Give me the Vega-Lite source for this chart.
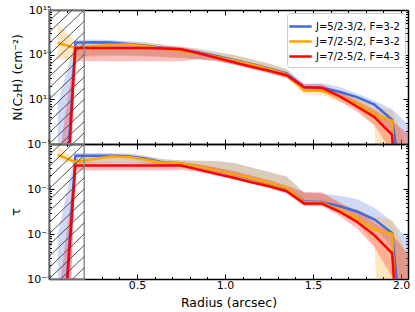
{
  "$schema": "https://vega.github.io/schema/vega-lite/v6.json",
  "padding": {"left": 9, "top": 4, "right": 5, "bottom": 3},
  "bounds": "flush",
  "spacing": 0,
  "config": {
    "font": "DejaVu Sans",
    "view": {"stroke": null},
    "axis": {
      "domainColor": "black", "domainWidth": 1.5, "tickColor": "black", "tickWidth": 1,
      "labelFont": "DejaVu Sans", "labelFontSize": 11, "labelColor": "black",
      "titleFont": "DejaVu Sans", "titleFontSize": 12.5, "titleFontWeight": "normal", "titleColor": "black",
      "grid": false, "labelPadding": 3, "zindex": 1, "labelOverlap": false, "labelFlush": false, "labelBound": false
    },
    "legend": {
      "orient": "top-right", "offset": 3, "symbolType": "M-1.6,0L1.6,0", "symbolStrokeWidth": 2.5, "symbolSize": 196, "symbolOpacity": 1,
      "labelFont": "DejaVu Sans", "labelFontSize": 10, "labelColor": "black",
      "fillColor": "rgba(255,255,255,0.85)", "strokeColor": "#cccccc", "padding": 5, "cornerRadius": 3, "rowPadding": 1, "labelOffset": 7
    }
  },
  "datasets": {
    "box": [{"x0": 0, "x1": 0.2}],
    "hatchN": [
      {"x0": 0, "x1": 0.2, "ya": 1.778e11, "yb": 1e12},
      {"x0": 0, "x1": 0.2, "ya": 3.162e11, "yb": 1.778e12},
      {"x0": 0, "x1": 0.2, "ya": 5.623e11, "yb": 3.162e12},
      {"x0": 0, "x1": 0.2, "ya": 1e12, "yb": 5.623e12},
      {"x0": 0, "x1": 0.2, "ya": 1.778e12, "yb": 1e13},
      {"x0": 0, "x1": 0.2, "ya": 3.162e12, "yb": 1.778e13},
      {"x0": 0, "x1": 0.2, "ya": 5.623e12, "yb": 3.162e13},
      {"x0": 0, "x1": 0.2, "ya": 1e13, "yb": 5.623e13},
      {"x0": 0, "x1": 0.2, "ya": 1.778e13, "yb": 1e14},
      {"x0": 0, "x1": 0.2, "ya": 3.162e13, "yb": 1.778e14},
      {"x0": 0, "x1": 0.2, "ya": 5.623e13, "yb": 3.162e14},
      {"x0": 0, "x1": 0.2, "ya": 1e14, "yb": 5.623e14},
      {"x0": 0, "x1": 0.2, "ya": 1.778e14, "yb": 1e15},
      {"x0": 0, "x1": 0.2, "ya": 3.162e14, "yb": 1.778e15},
      {"x0": 0, "x1": 0.2, "ya": 5.623e14, "yb": 3.162e15},
      {"x0": 0, "x1": 0.2, "ya": 1e15, "yb": 5.623e15}
    ],
    "hatchT": [
      {"x0": 0, "x1": 0.2, "ya": 1.778e-5, "yb": 1e-4},
      {"x0": 0, "x1": 0.2, "ya": 3.162e-5, "yb": 1.778e-4},
      {"x0": 0, "x1": 0.2, "ya": 5.623e-5, "yb": 3.162e-4},
      {"x0": 0, "x1": 0.2, "ya": 1e-4, "yb": 5.623e-4},
      {"x0": 0, "x1": 0.2, "ya": 1.778e-4, "yb": 1e-3},
      {"x0": 0, "x1": 0.2, "ya": 3.162e-4, "yb": 1.778e-3},
      {"x0": 0, "x1": 0.2, "ya": 5.623e-4, "yb": 3.162e-3},
      {"x0": 0, "x1": 0.2, "ya": 1e-3, "yb": 5.623e-3},
      {"x0": 0, "x1": 0.2, "ya": 1.778e-3, "yb": 1e-2},
      {"x0": 0, "x1": 0.2, "ya": 3.162e-3, "yb": 1.778e-2},
      {"x0": 0, "x1": 0.2, "ya": 5.623e-3, "yb": 3.162e-2},
      {"x0": 0, "x1": 0.2, "ya": 1e-2, "yb": 5.623e-2},
      {"x0": 0, "x1": 0.2, "ya": 1.778e-2, "yb": 1e-1},
      {"x0": 0, "x1": 0.2, "ya": 3.162e-2, "yb": 1.778e-1},
      {"x0": 0, "x1": 0.2, "ya": 5.623e-2, "yb": 3.162e-1},
      {"x0": 0, "x1": 0.2, "ya": 1e-1, "yb": 5.623e-1}
    ],
    "N": [
      {"s": "J=5/2-3/2, F=3-2", "r": 0.05, "v": 1e8, "lo": 1e5, "hi": 7.943e12},
      {"s": "J=5/2-3/2, F=3-2", "r": 0.15, "v": 1.862e14, "lo": 8.913e13, "hi": 2.138e14},
      {"s": "J=5/2-3/2, F=3-2", "r": 0.25, "v": 1.905e14, "lo": 9.55e13, "hi": 2.188e14},
      {"s": "J=5/2-3/2, F=3-2", "r": 0.35, "v": 1.862e14, "lo": 9.55e13, "hi": 2.138e14},
      {"s": "J=5/2-3/2, F=3-2", "r": 0.45, "v": 1.738e14, "lo": 9.55e13, "hi": 1.995e14},
      {"s": "J=5/2-3/2, F=3-2", "r": 0.55, "v": 1.585e14, "lo": 9.333e13, "hi": 1.862e14},
      {"s": "J=5/2-3/2, F=3-2", "r": 0.65, "v": 1.413e14, "lo": 8.913e13, "hi": 1.66e14},
      {"s": "J=5/2-3/2, F=3-2", "r": 0.75, "v": 1.288e14, "lo": 8.511e13, "hi": 1.514e14},
      {"s": "J=5/2-3/2, F=3-2", "r": 0.85, "v": 1.122e14, "lo": 7.943e13, "hi": 1.349e14},
      {"s": "J=5/2-3/2, F=3-2", "r": 0.95, "v": 9.333e13, "lo": 7.079e13, "hi": 1.148e14},
      {"s": "J=5/2-3/2, F=3-2", "r": 1.05, "v": 7.586e13, "lo": 6.026e13, "hi": 9.772e13},
      {"s": "J=5/2-3/2, F=3-2", "r": 1.15, "v": 6.166e13, "lo": 5.012e13, "hi": 7.943e13},
      {"s": "J=5/2-3/2, F=3-2", "r": 1.25, "v": 4.898e13, "lo": 3.981e13, "hi": 6.31e13},
      {"s": "J=5/2-3/2, F=3-2", "r": 1.35, "v": 3.802e13, "lo": 3.162e13, "hi": 4.786e13},
      {"s": "J=5/2-3/2, F=3-2", "r": 1.45, "v": 1.862e13, "lo": 1.585e13, "hi": 2.239e13},
      {"s": "J=5/2-3/2, F=3-2", "r": 1.55, "v": 1.82e13, "lo": 1.514e13, "hi": 2.291e13},
      {"s": "J=5/2-3/2, F=3-2", "r": 1.65, "v": 1.479e13, "lo": 1.122e13, "hi": 1.905e13},
      {"s": "J=5/2-3/2, F=3-2", "r": 1.75, "v": 1.122e13, "lo": 7.943e12, "hi": 1.349e13},
      {"s": "J=5/2-3/2, F=3-2", "r": 1.85, "v": 7.586e12, "lo": 4.786e12, "hi": 9.333e12},
      {"s": "J=5/2-3/2, F=3-2", "r": 1.95, "v": 3.467e12, "lo": 1.585e12, "hi": 6.026e12},
      {"s": "J=5/2-3/2, F=3-2", "r": 2.05, "v": 6.31e9, "lo": 1e5, "hi": 2.512e12},
      {"s": "J=7/2-5/2, F=3-2", "r": 0.05, "v": 1.82e14, "lo": 7.943e13, "hi": 5.012e14},
      {"s": "J=7/2-5/2, F=3-2", "r": 0.15, "v": 1.413e14, "lo": 7.943e13, "hi": 1.995e14},
      {"s": "J=7/2-5/2, F=3-2", "r": 0.25, "v": 1.549e14, "lo": 8.913e13, "hi": 1.905e14},
      {"s": "J=7/2-5/2, F=3-2", "r": 0.35, "v": 1.66e14, "lo": 9.333e13, "hi": 1.995e14},
      {"s": "J=7/2-5/2, F=3-2", "r": 0.45, "v": 1.698e14, "lo": 9.333e13, "hi": 1.995e14},
      {"s": "J=7/2-5/2, F=3-2", "r": 0.55, "v": 1.549e14, "lo": 9.12e13, "hi": 1.862e14},
      {"s": "J=7/2-5/2, F=3-2", "r": 0.65, "v": 1.349e14, "lo": 8.71e13, "hi": 1.66e14},
      {"s": "J=7/2-5/2, F=3-2", "r": 0.75, "v": 1.202e14, "lo": 8.318e13, "hi": 1.479e14},
      {"s": "J=7/2-5/2, F=3-2", "r": 0.85, "v": 1.072e14, "lo": 7.943e13, "hi": 1.318e14},
      {"s": "J=7/2-5/2, F=3-2", "r": 0.95, "v": 8.913e13, "lo": 7.079e13, "hi": 1.148e14},
      {"s": "J=7/2-5/2, F=3-2", "r": 1.05, "v": 7.413e13, "lo": 6.026e13, "hi": 9.772e13},
      {"s": "J=7/2-5/2, F=3-2", "r": 1.15, "v": 6.026e13, "lo": 5.012e13, "hi": 7.943e13},
      {"s": "J=7/2-5/2, F=3-2", "r": 1.25, "v": 4.786e13, "lo": 3.981e13, "hi": 6.31e13},
      {"s": "J=7/2-5/2, F=3-2", "r": 1.35, "v": 3.631e13, "lo": 3.02e13, "hi": 4.571e13},
      {"s": "J=7/2-5/2, F=3-2", "r": 1.45, "v": 1.585e13, "lo": 1.318e13, "hi": 1.995e13},
      {"s": "J=7/2-5/2, F=3-2", "r": 1.55, "v": 1.549e13, "lo": 1.259e13, "hi": 1.95e13},
      {"s": "J=7/2-5/2, F=3-2", "r": 1.65, "v": 1.148e13, "lo": 8.913e12, "hi": 1.479e13},
      {"s": "J=7/2-5/2, F=3-2", "r": 1.75, "v": 8.128e12, "lo": 6.026e12, "hi": 1.072e13},
      {"s": "J=7/2-5/2, F=3-2", "r": 1.85, "v": 4.571e12, "lo": 2.512e12, "hi": 7.079e12},
      {"s": "J=7/2-5/2, F=3-2", "r": 1.95, "v": 3.311e12, "lo": 100, "hi": 5.623e12},
      {"s": "J=7/2-5/2, F=3-2", "r": 2.05, "v": 100, "lo": 100, "hi": 6.31e11},
      {"s": "J=7/2-5/2, F=4-3", "r": 0.05, "v": 3.981e7, "lo": 1e5, "hi": 3.162e11},
      {"s": "J=7/2-5/2, F=4-3", "r": 0.15, "v": 1.413e14, "lo": 7.079e13, "hi": 1.585e14},
      {"s": "J=7/2-5/2, F=4-3", "r": 0.25, "v": 1.413e14, "lo": 7.079e13, "hi": 1.585e14},
      {"s": "J=7/2-5/2, F=4-3", "r": 0.35, "v": 1.413e14, "lo": 7.079e13, "hi": 1.585e14},
      {"s": "J=7/2-5/2, F=4-3", "r": 0.45, "v": 1.413e14, "lo": 7.079e13, "hi": 1.585e14},
      {"s": "J=7/2-5/2, F=4-3", "r": 0.55, "v": 1.413e14, "lo": 7.079e13, "hi": 1.585e14},
      {"s": "J=7/2-5/2, F=4-3", "r": 0.65, "v": 1.38e14, "lo": 7.079e13, "hi": 1.549e14},
      {"s": "J=7/2-5/2, F=4-3", "r": 0.75, "v": 1.318e14, "lo": 7.079e13, "hi": 1.479e14},
      {"s": "J=7/2-5/2, F=4-3", "r": 0.85, "v": 1.072e14, "lo": 7.943e13, "hi": 1.23e14},
      {"s": "J=7/2-5/2, F=4-3", "r": 0.95, "v": 8.511e13, "lo": 7.413e13, "hi": 9.772e13},
      {"s": "J=7/2-5/2, F=4-3", "r": 1.05, "v": 6.761e13, "lo": 6.026e13, "hi": 7.943e13},
      {"s": "J=7/2-5/2, F=4-3", "r": 1.15, "v": 5.37e13, "lo": 4.786e13, "hi": 6.31e13},
      {"s": "J=7/2-5/2, F=4-3", "r": 1.25, "v": 4.365e13, "lo": 3.802e13, "hi": 5.012e13},
      {"s": "J=7/2-5/2, F=4-3", "r": 1.35, "v": 3.467e13, "lo": 3.02e13, "hi": 3.981e13},
      {"s": "J=7/2-5/2, F=4-3", "r": 1.45, "v": 1.862e13, "lo": 1.585e13, "hi": 2.239e13},
      {"s": "J=7/2-5/2, F=4-3", "r": 1.55, "v": 1.82e13, "lo": 1.514e13, "hi": 2.188e13},
      {"s": "J=7/2-5/2, F=4-3", "r": 1.65, "v": 1.175e13, "lo": 9.333e12, "hi": 1.479e13},
      {"s": "J=7/2-5/2, F=4-3", "r": 1.75, "v": 6.918e12, "lo": 5.248e12, "hi": 9.333e12},
      {"s": "J=7/2-5/2, F=4-3", "r": 1.85, "v": 3.981e12, "lo": 2.63e12, "hi": 5.754e12},
      {"s": "J=7/2-5/2, F=4-3", "r": 1.95, "v": 1.585e12, "lo": 6.31e11, "hi": 3.311e12},
      {"s": "J=7/2-5/2, F=4-3", "r": 2.05, "v": 1e5, "lo": 1e5, "hi": 1.585e12}
    ],
    "tau": [
      {"s": "J=5/2-3/2, F=3-2", "r": 0.05, "v": 1e-7, "lo": 1e-12, "hi": 1e-3},
      {"s": "J=5/2-3/2, F=3-2", "r": 0.15, "v": 5.495e-2, "lo": 3.802e-2, "hi": 6.31e-2},
      {"s": "J=5/2-3/2, F=3-2", "r": 0.25, "v": 5.495e-2, "lo": 3.802e-2, "hi": 6.31e-2},
      {"s": "J=5/2-3/2, F=3-2", "r": 0.35, "v": 5.495e-2, "lo": 3.802e-2, "hi": 6.31e-2},
      {"s": "J=5/2-3/2, F=3-2", "r": 0.45, "v": 5.37e-2, "lo": 3.802e-2, "hi": 6.166e-2},
      {"s": "J=5/2-3/2, F=3-2", "r": 0.55, "v": 4.677e-2, "lo": 3.631e-2, "hi": 5.495e-2},
      {"s": "J=5/2-3/2, F=3-2", "r": 0.65, "v": 3.89e-2, "lo": 3.388e-2, "hi": 4.571e-2},
      {"s": "J=5/2-3/2, F=3-2", "r": 0.75, "v": 3.715e-2, "lo": 3.162e-2, "hi": 4.365e-2},
      {"s": "J=5/2-3/2, F=3-2", "r": 0.85, "v": 3.162e-2, "lo": 2.754e-2, "hi": 4.266e-2},
      {"s": "J=5/2-3/2, F=3-2", "r": 0.95, "v": 2.63e-2, "lo": 2.291e-2, "hi": 4.169e-2},
      {"s": "J=5/2-3/2, F=3-2", "r": 1.05, "v": 2.138e-2, "lo": 1.862e-2, "hi": 3.802e-2},
      {"s": "J=5/2-3/2, F=3-2", "r": 1.15, "v": 1.698e-2, "lo": 1.479e-2, "hi": 3.02e-2},
      {"s": "J=5/2-3/2, F=3-2", "r": 1.25, "v": 1.349e-2, "lo": 1.175e-2, "hi": 2.399e-2},
      {"s": "J=5/2-3/2, F=3-2", "r": 1.35, "v": 1.047e-2, "lo": 8.913e-3, "hi": 1.905e-2},
      {"s": "J=5/2-3/2, F=3-2", "r": 1.45, "v": 5.248e-3, "lo": 4.467e-3, "hi": 8.511e-3},
      {"s": "J=5/2-3/2, F=3-2", "r": 1.55, "v": 5.129e-3, "lo": 4.365e-3, "hi": 7.943e-3},
      {"s": "J=5/2-3/2, F=3-2", "r": 1.65, "v": 4.169e-3, "lo": 3.162e-3, "hi": 7.079e-3},
      {"s": "J=5/2-3/2, F=3-2", "r": 1.75, "v": 3.162e-3, "lo": 2.239e-3, "hi": 6.026e-3},
      {"s": "J=5/2-3/2, F=3-2", "r": 1.85, "v": 2.089e-3, "lo": 1.413e-3, "hi": 3.802e-3},
      {"s": "J=5/2-3/2, F=3-2", "r": 1.95, "v": 1.047e-3, "lo": 5.012e-4, "hi": 1.905e-3},
      {"s": "J=5/2-3/2, F=3-2", "r": 2.05, "v": 7.943e-8, "lo": 1e-12, "hi": 6.607e-4},
      {"s": "J=7/2-5/2, F=3-2", "r": 0.05, "v": 5.754e-2, "lo": 4.467e-2, "hi": 8.913e-2},
      {"s": "J=7/2-5/2, F=3-2", "r": 0.15, "v": 3.981e-2, "lo": 3.467e-2, "hi": 4.677e-2},
      {"s": "J=7/2-5/2, F=3-2", "r": 0.25, "v": 4.571e-2, "lo": 3.802e-2, "hi": 5.495e-2},
      {"s": "J=7/2-5/2, F=3-2", "r": 0.35, "v": 5.248e-2, "lo": 3.981e-2, "hi": 6.026e-2},
      {"s": "J=7/2-5/2, F=3-2", "r": 0.45, "v": 5.129e-2, "lo": 3.981e-2, "hi": 6.026e-2},
      {"s": "J=7/2-5/2, F=3-2", "r": 0.55, "v": 4.467e-2, "lo": 3.802e-2, "hi": 5.37e-2},
      {"s": "J=7/2-5/2, F=3-2", "r": 0.65, "v": 3.802e-2, "lo": 3.467e-2, "hi": 4.571e-2},
      {"s": "J=7/2-5/2, F=3-2", "r": 0.75, "v": 3.715e-2, "lo": 3.311e-2, "hi": 4.365e-2},
      {"s": "J=7/2-5/2, F=3-2", "r": 0.85, "v": 3.162e-2, "lo": 2.818e-2, "hi": 4.266e-2},
      {"s": "J=7/2-5/2, F=3-2", "r": 0.95, "v": 2.63e-2, "lo": 2.344e-2, "hi": 4.169e-2},
      {"s": "J=7/2-5/2, F=3-2", "r": 1.05, "v": 2.138e-2, "lo": 1.905e-2, "hi": 3.802e-2},
      {"s": "J=7/2-5/2, F=3-2", "r": 1.15, "v": 1.738e-2, "lo": 1.514e-2, "hi": 3.02e-2},
      {"s": "J=7/2-5/2, F=3-2", "r": 1.25, "v": 1.38e-2, "lo": 1.202e-2, "hi": 2.399e-2},
      {"s": "J=7/2-5/2, F=3-2", "r": 1.35, "v": 1.072e-2, "lo": 9.12e-3, "hi": 1.905e-2},
      {"s": "J=7/2-5/2, F=3-2", "r": 1.45, "v": 5.012e-3, "lo": 4.365e-3, "hi": 7.943e-3},
      {"s": "J=7/2-5/2, F=3-2", "r": 1.55, "v": 5.012e-3, "lo": 4.266e-3, "hi": 7.943e-3},
      {"s": "J=7/2-5/2, F=3-2", "r": 1.65, "v": 3.388e-3, "lo": 2.818e-3, "hi": 5.012e-3},
      {"s": "J=7/2-5/2, F=3-2", "r": 1.75, "v": 2.239e-3, "lo": 1.778e-3, "hi": 3.548e-3},
      {"s": "J=7/2-5/2, F=3-2", "r": 1.85, "v": 1.259e-3, "lo": 5.623e-4, "hi": 2.399e-3},
      {"s": "J=7/2-5/2, F=3-2", "r": 1.95, "v": 1e-3, "lo": 1e-12, "hi": 2.089e-3},
      {"s": "J=7/2-5/2, F=3-2", "r": 2.05, "v": 1e-12, "lo": 1e-12, "hi": 2.512e-4},
      {"s": "J=7/2-5/2, F=4-3", "r": 0.05, "v": 1e-7, "lo": 1e-12, "hi": 3.162e-5},
      {"s": "J=7/2-5/2, F=4-3", "r": 0.15, "v": 3.311e-2, "lo": 2.57e-2, "hi": 3.89e-2},
      {"s": "J=7/2-5/2, F=4-3", "r": 0.25, "v": 3.311e-2, "lo": 2.57e-2, "hi": 3.89e-2},
      {"s": "J=7/2-5/2, F=4-3", "r": 0.35, "v": 3.311e-2, "lo": 2.57e-2, "hi": 3.89e-2},
      {"s": "J=7/2-5/2, F=4-3", "r": 0.45, "v": 3.311e-2, "lo": 2.57e-2, "hi": 3.89e-2},
      {"s": "J=7/2-5/2, F=4-3", "r": 0.55, "v": 3.311e-2, "lo": 2.57e-2, "hi": 3.89e-2},
      {"s": "J=7/2-5/2, F=4-3", "r": 0.65, "v": 3.311e-2, "lo": 2.57e-2, "hi": 3.89e-2},
      {"s": "J=7/2-5/2, F=4-3", "r": 0.75, "v": 3.311e-2, "lo": 2.63e-2, "hi": 3.89e-2},
      {"s": "J=7/2-5/2, F=4-3", "r": 0.85, "v": 2.692e-2, "lo": 2.399e-2, "hi": 3.548e-2},
      {"s": "J=7/2-5/2, F=4-3", "r": 0.95, "v": 2.188e-2, "lo": 1.995e-2, "hi": 3.02e-2},
      {"s": "J=7/2-5/2, F=4-3", "r": 1.05, "v": 1.778e-2, "lo": 1.622e-2, "hi": 2.512e-2},
      {"s": "J=7/2-5/2, F=4-3", "r": 1.15, "v": 1.413e-2, "lo": 1.318e-2, "hi": 1.995e-2},
      {"s": "J=7/2-5/2, F=4-3", "r": 1.25, "v": 1.148e-2, "lo": 1.047e-2, "hi": 1.585e-2},
      {"s": "J=7/2-5/2, F=4-3", "r": 1.35, "v": 8.913e-3, "lo": 7.943e-3, "hi": 1.202e-2},
      {"s": "J=7/2-5/2, F=4-3", "r": 1.45, "v": 4.786e-3, "lo": 4.169e-3, "hi": 8.511e-3},
      {"s": "J=7/2-5/2, F=4-3", "r": 1.55, "v": 4.786e-3, "lo": 4.169e-3, "hi": 8.511e-3},
      {"s": "J=7/2-5/2, F=4-3", "r": 1.65, "v": 3.162e-3, "lo": 2.512e-3, "hi": 5.012e-3},
      {"s": "J=7/2-5/2, F=4-3", "r": 1.75, "v": 1.862e-3, "lo": 1.318e-3, "hi": 3.162e-3},
      {"s": "J=7/2-5/2, F=4-3", "r": 1.85, "v": 9.333e-4, "lo": 5.012e-4, "hi": 1.778e-3},
      {"s": "J=7/2-5/2, F=4-3", "r": 1.95, "v": 3.715e-4, "lo": 1.122e-4, "hi": 1e-3},
      {"s": "J=7/2-5/2, F=4-3", "r": 2.05, "v": 1e-9, "lo": 1e-12, "hi": 3.162e-4}
    ]
  },
  "vconcat": [
    {
      "width": 359, "height": 134,
      "layer": [
        {
          "data": {"name": "N"},
          "encoding": {
            "x": {"field": "r", "type": "quantitative", "scale": {"domain": [0, 2.04], "nice": false, "zero": false},
              "axis": {"orient": "bottom", "title": null, "labels": false, "values": [0.1,0.2,0.3,0.4,0.5,0.6,0.7,0.8,0.9,1,1.1,1.2,1.3,1.4,1.5,1.6,1.7,1.8,1.9,2],
                "tickSize": {"condition": {"test": "datum.value == 0.5 || datum.value == 1 || datum.value == 1.5 || datum.value == 2", "value": -5}, "value": -2.5}}},
            "color": {"field": "s", "type": "nominal", "title": null,
              "scale": {"domain": ["J=5/2-3/2, F=3-2", "J=7/2-5/2, F=3-2", "J=7/2-5/2, F=4-3"], "range": ["#4169E1", "#FFA500", "#FF0000"]},
              "legend": {"orient": "top-right", "title": null}}
          },
          "layer": [
            {"mark": {"type": "area", "opacity": 0.25, "clip": true},
             "encoding": {
               "y": {"field": "lo", "type": "quantitative", "scale": {"type": "log", "domain": [1e12, 1e15], "nice": false},
                 "axis": {"orient": "left", "title": "N(C₂H) (cm⁻²)", "titlePadding": 4,
                   "values": [2e12,3e12,4e12,5e12,6e12,7e12,8e12,9e12,1e13,2e13,3e13,4e13,5e13,6e13,7e13,8e13,9e13,1e14,2e14,3e14,4e14,5e14,6e14,7e14,8e14,9e14,1e15],
                   "labelExpr": "datum.value == 1e15 ? '10¹⁵' : datum.value == 1e14 ? '10¹⁴' : datum.value == 1e13 ? '10¹³' : ''",
                   "tickSize": {"condition": {"test": "datum.value == 1e13 || datum.value == 1e14 || datum.value == 1e15", "value": -5}, "value": -2.5}}},
               "y2": {"field": "hi"}
             }},
            {"mark": {"type": "line", "strokeWidth": 2.5, "clip": true},
             "encoding": {
               "y": {"field": "v", "type": "quantitative", "scale": {"type": "log", "domain": [1e12, 1e15], "nice": false},
                 "axis": {"orient": "left", "title": "N(C₂H) (cm⁻²)", "titlePadding": 4,
                   "values": [2e12,3e12,4e12,5e12,6e12,7e12,8e12,9e12,1e13,2e13,3e13,4e13,5e13,6e13,7e13,8e13,9e13,1e14,2e14,3e14,4e14,5e14,6e14,7e14,8e14,9e14,1e15],
                   "labelExpr": "datum.value == 1e15 ? '10¹⁵' : datum.value == 1e14 ? '10¹⁴' : datum.value == 1e13 ? '10¹³' : ''",
                   "tickSize": {"condition": {"test": "datum.value == 1e13 || datum.value == 1e14 || datum.value == 1e15", "value": -5}, "value": -2.5}}}
             }}
          ]
        },
        {
          "layer": [
            {"data": {"name": "box"}, "mark": {"type": "rect", "fill": "transparent", "stroke": "#8c8c8c", "strokeWidth": 1.5},
             "encoding": {
               "x": {"field": "x0", "type": "quantitative", "scale": {"domain": [0, 2.04], "nice": false, "zero": false},
                 "axis": {"orient": "top", "title": null, "labels": false, "values": [0.1,0.2,0.3,0.4,0.5,0.6,0.7,0.8,0.9,1,1.1,1.2,1.3,1.4,1.5,1.6,1.7,1.8,1.9,2],
                   "tickSize": {"condition": {"test": "datum.value == 0.5 || datum.value == 1 || datum.value == 1.5 || datum.value == 2", "value": -5}, "value": -2.5}}},
               "x2": {"field": "x1"}
             }},
            {"data": {"name": "hatchN"}, "mark": {"type": "rule", "clip": true, "color": "#404040", "strokeWidth": 0.9},
             "encoding": {
               "x": {"field": "x0", "type": "quantitative", "scale": {"domain": [0, 2.04], "nice": false, "zero": false},
                 "axis": {"orient": "top", "title": null, "labels": false, "values": [0.1,0.2,0.3,0.4,0.5,0.6,0.7,0.8,0.9,1,1.1,1.2,1.3,1.4,1.5,1.6,1.7,1.8,1.9,2],
                   "tickSize": {"condition": {"test": "datum.value == 0.5 || datum.value == 1 || datum.value == 1.5 || datum.value == 2", "value": -5}, "value": -2.5}}},
               "x2": {"field": "x1"},
               "y": {"field": "ya", "type": "quantitative", "scale": {"type": "log", "domain": [1e12, 1e15], "nice": false},
                 "axis": {"orient": "right", "title": null, "labels": false,
                   "values": [2e12,3e12,4e12,5e12,6e12,7e12,8e12,9e12,1e13,2e13,3e13,4e13,5e13,6e13,7e13,8e13,9e13,1e14,2e14,3e14,4e14,5e14,6e14,7e14,8e14,9e14,1e15],
                   "tickSize": {"condition": {"test": "datum.value == 1e13 || datum.value == 1e14 || datum.value == 1e15", "value": -5}, "value": -2.5}}},
               "y2": {"field": "yb"}
             }}
          ]
        }
      ],
      "resolve": {"scale": {"x": "independent", "y": "independent"}}
    },
    {
      "width": 359, "height": 135,
      "layer": [
        {
          "data": {"name": "tau"},
          "encoding": {
            "x": {"field": "r", "type": "quantitative", "scale": {"domain": [0, 2.04], "nice": false, "zero": false},
              "axis": {"orient": "bottom", "title": "Radius (arcsec)", "titlePadding": 4, "labelPadding": 5, "values": [0.1,0.2,0.3,0.4,0.5,0.6,0.7,0.8,0.9,1,1.1,1.2,1.3,1.4,1.5,1.6,1.7,1.8,1.9,2],
                "labelExpr": "datum.value == 0.5 || datum.value == 1 || datum.value == 1.5 || datum.value == 2 ? format(datum.value, '.1f') : ''",
                "tickSize": {"condition": {"test": "datum.value == 0.5 || datum.value == 1 || datum.value == 1.5 || datum.value == 2", "value": -5}, "value": -2.5}}},
            "color": {"field": "s", "type": "nominal", "legend": null,
              "scale": {"domain": ["J=5/2-3/2, F=3-2", "J=7/2-5/2, F=3-2", "J=7/2-5/2, F=4-3"], "range": ["#4169E1", "#FFA500", "#FF0000"]}}
          },
          "layer": [
            {"mark": {"type": "area", "opacity": 0.25, "clip": true},
             "encoding": {
               "y": {"field": "lo", "type": "quantitative", "scale": {"type": "log", "domain": [0.0001, 0.1], "nice": false},
                 "axis": {"orient": "left", "title": "τ", "titlePadding": 4,
                   "values": [0.0001,0.0002,0.0003,0.0004,0.0005,0.0006,0.0007,0.0008,0.0009,0.001,0.002,0.003,0.004,0.005,0.006,0.007,0.008,0.009,0.01,0.02,0.03,0.04,0.05,0.06,0.07,0.08,0.09,0.1],
                   "labelExpr": "datum.value == 0.1 ? '10⁻¹' : datum.value == 0.01 ? '10⁻²' : datum.value == 0.001 ? '10⁻³' : datum.value == 0.0001 ? '10⁻⁴' : ''",
                   "tickSize": {"condition": {"test": "datum.value == 0.1 || datum.value == 0.01 || datum.value == 0.001 || datum.value == 0.0001", "value": -5}, "value": -2.5}}},
               "y2": {"field": "hi"}
             }},
            {"mark": {"type": "line", "strokeWidth": 2.5, "clip": true},
             "encoding": {
               "y": {"field": "v", "type": "quantitative", "scale": {"type": "log", "domain": [0.0001, 0.1], "nice": false},
                 "axis": {"orient": "left", "title": "τ", "titlePadding": 4,
                   "values": [0.0001,0.0002,0.0003,0.0004,0.0005,0.0006,0.0007,0.0008,0.0009,0.001,0.002,0.003,0.004,0.005,0.006,0.007,0.008,0.009,0.01,0.02,0.03,0.04,0.05,0.06,0.07,0.08,0.09,0.1],
                   "labelExpr": "datum.value == 0.1 ? '10⁻¹' : datum.value == 0.01 ? '10⁻²' : datum.value == 0.001 ? '10⁻³' : datum.value == 0.0001 ? '10⁻⁴' : ''",
                   "tickSize": {"condition": {"test": "datum.value == 0.1 || datum.value == 0.01 || datum.value == 0.001 || datum.value == 0.0001", "value": -5}, "value": -2.5}}}
             }}
          ]
        },
        {
          "layer": [
            {"data": {"name": "box"}, "mark": {"type": "rect", "fill": "transparent", "stroke": "#8c8c8c", "strokeWidth": 1.5},
             "encoding": {
               "x": {"field": "x0", "type": "quantitative", "scale": {"domain": [0, 2.04], "nice": false, "zero": false},
                 "axis": {"orient": "top", "title": null, "labels": false, "values": [0.1,0.2,0.3,0.4,0.5,0.6,0.7,0.8,0.9,1,1.1,1.2,1.3,1.4,1.5,1.6,1.7,1.8,1.9,2],
                   "tickSize": {"condition": {"test": "datum.value == 0.5 || datum.value == 1 || datum.value == 1.5 || datum.value == 2", "value": -5}, "value": -2.5}}},
               "x2": {"field": "x1"}
             }},
            {"data": {"name": "hatchT"}, "mark": {"type": "rule", "clip": true, "color": "#404040", "strokeWidth": 0.9},
             "encoding": {
               "x": {"field": "x0", "type": "quantitative", "scale": {"domain": [0, 2.04], "nice": false, "zero": false},
                 "axis": {"orient": "top", "title": null, "labels": false, "values": [0.1,0.2,0.3,0.4,0.5,0.6,0.7,0.8,0.9,1,1.1,1.2,1.3,1.4,1.5,1.6,1.7,1.8,1.9,2],
                   "tickSize": {"condition": {"test": "datum.value == 0.5 || datum.value == 1 || datum.value == 1.5 || datum.value == 2", "value": -5}, "value": -2.5}}},
               "x2": {"field": "x1"},
               "y": {"field": "ya", "type": "quantitative", "scale": {"type": "log", "domain": [0.0001, 0.1], "nice": false},
                 "axis": {"orient": "right", "title": null, "labels": false,
                   "values": [0.0001,0.0002,0.0003,0.0004,0.0005,0.0006,0.0007,0.0008,0.0009,0.001,0.002,0.003,0.004,0.005,0.006,0.007,0.008,0.009,0.01,0.02,0.03,0.04,0.05,0.06,0.07,0.08,0.09,0.1],
                   "tickSize": {"condition": {"test": "datum.value == 0.1 || datum.value == 0.01 || datum.value == 0.001 || datum.value == 0.0001", "value": -5}, "value": -2.5}}},
               "y2": {"field": "yb"}
             }}
          ]
        }
      ],
      "resolve": {"scale": {"x": "independent", "y": "independent"}}
    }
  ],
  "resolve": {"scale": {"color": "independent", "x": "independent", "y": "independent"}, "legend": {"color": "independent"}}
}
